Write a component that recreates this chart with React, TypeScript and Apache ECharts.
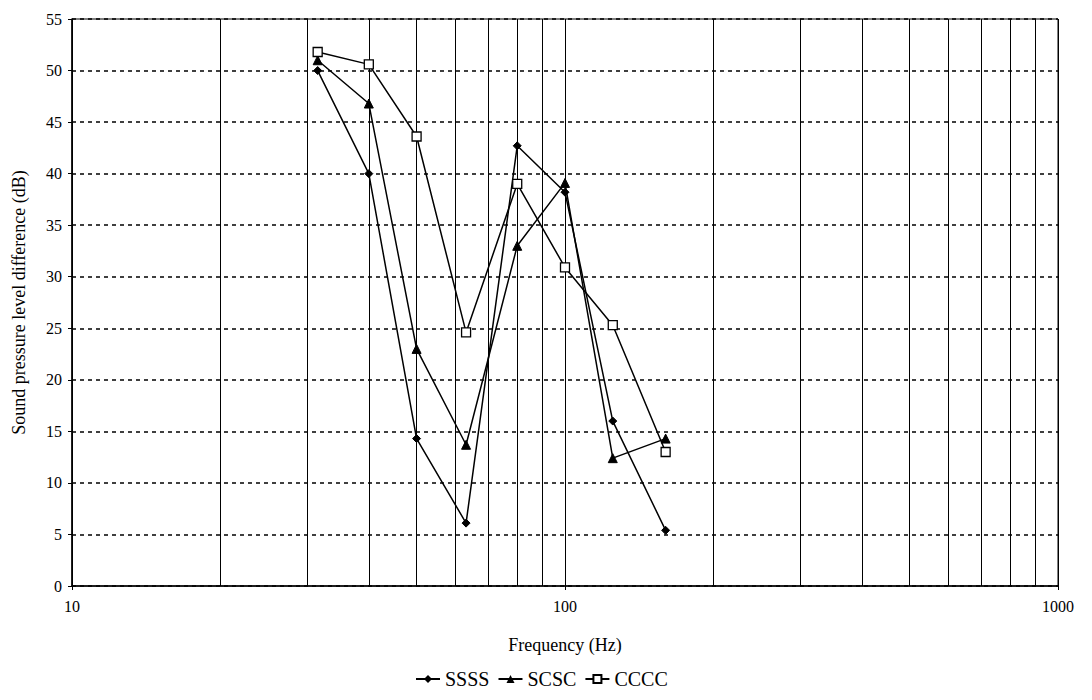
import React, { useEffect, useRef } from "react";
import * as echarts from "echarts";

const frequencies = [31.5, 40, 50, 63, 80, 100, 125, 160];
const ssss = [50, 40, 14.3, 6.1, 42.7, 38.2, 16.0, 5.4];
const scsc = [51, 46.8, 23.0, 13.7, 33.0, 39.1, 12.4, 14.3];
const cccc = [51.8, 50.6, 43.6, 24.6, 39.0, 30.9, 25.3, 13.0];
const minorGridFreqs = [20, 30, 40, 50, 60, 70, 80, 90, 200, 300, 400, 500, 600, 700, 800, 900];

const FONT = "Liberation Serif";

export default function App() {
  const ref = useRef<HTMLDivElement>(null);
  useEffect(() => {
    if (!ref.current) return;
    const chart = echarts.init(ref.current, null, { renderer: "svg" });
    const pairs = (vals: number[]) => frequencies.map((f, i) => [f, vals[i]]);
    chart.setOption({
      animation: false,
      backgroundColor: "#fff",
      textStyle: { fontFamily: FONT, color: "#000" },
      grid: {
        left: 72,
        right: 34,
        top: 19,
        bottom: 114,
        show: true,
        borderColor: "#000",
        borderWidth: 1,
        backgroundColor: "transparent",
      },
      legend: {
        bottom: 6,
        left: 410,
        itemWidth: 24,
        itemHeight: 10,
        itemGap: 8,
        textStyle: { fontFamily: FONT, fontSize: 20, color: "#000" },
        data: ["SSSS", "SCSC", "CCCC"],
      },
      xAxis: {
        type: "log",
        logBase: 10,
        min: 10,
        max: 1000,
        name: "Frequency (Hz)",
        nameLocation: "middle",
        nameGap: 50,
        nameTextStyle: { fontFamily: FONT, fontSize: 18, color: "#000" },
        axisLine: { show: true, lineStyle: { color: "#000", width: 1.5 } },
        axisTick: { show: true, length: 4, lineStyle: { color: "#000" } },
        axisLabel: {
          fontFamily: FONT,
          fontSize: 16,
          color: "#000",
          margin: 12,
          formatter: (v: number) => String(Math.round(v)),
        },
        splitLine: { show: true, lineStyle: { color: "#000", width: 1, type: "solid" } },
      },
      yAxis: {
        type: "value",
        min: 0,
        max: 55,
        interval: 5,
        name: "Sound pressure level difference (dB)",
        nameLocation: "middle",
        nameGap: 44,
        nameRotate: 90,
        nameTextStyle: { fontFamily: FONT, fontSize: 18, color: "#000" },
        axisLine: { show: true, lineStyle: { color: "#000", width: 1.5 } },
        axisTick: { show: true, length: 4, inside: false, lineStyle: { color: "#000" } },
        axisLabel: { fontFamily: FONT, fontSize: 16, color: "#000", margin: 10 },
        splitLine: { show: true, lineStyle: { color: "#000", width: 1.5, type: [4, 4] } },
      },
      series: [
        {
          name: "grid",
          type: "line",
          data: [],
          silent: true,
          z: 1,
          markLine: {
            silent: true,
            symbol: "none",
            label: { show: false },
            lineStyle: { color: "#000", width: 1, type: "solid" },
            data: minorGridFreqs.map((f) => ({ xAxis: f })),
          },
        },
        {
          name: "SSSS",
          type: "line",
          data: pairs(ssss),
          symbol: "diamond",
          symbolSize: 8,
          z: 5,
          lineStyle: { color: "#000", width: 1.5 },
          itemStyle: { color: "#000", borderColor: "#000" },
        },
        {
          name: "SCSC",
          type: "line",
          data: pairs(scsc),
          symbol: "triangle",
          symbolSize: 9,
          z: 5,
          lineStyle: { color: "#000", width: 1.5 },
          itemStyle: { color: "#000", borderColor: "#000" },
        },
        {
          name: "CCCC",
          type: "line",
          data: pairs(cccc),
          symbol: "rect",
          symbolSize: 9,
          z: 6,
          lineStyle: { color: "#000", width: 1.5 },
          itemStyle: { color: "#fff", borderColor: "#000", borderWidth: 1.3 },
        },
      ],
    });
    return () => chart.dispose();
  }, []);
  return <div ref={ref} style={{ width: 1092, height: 700, position: "absolute", left: 0, top: 0 }} />;
}
